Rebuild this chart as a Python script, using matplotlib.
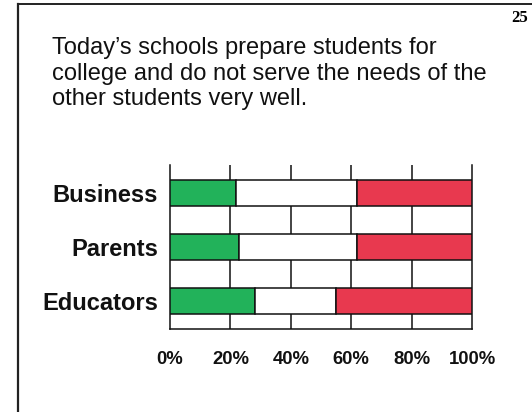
import numpy as np
import matplotlib.pyplot as plt
from matplotlib.lines import Line2D

groups = ["Educators", "Parents", "Business"]
agree = [28, 23, 22]
neutral = [27, 39, 40]
disagree = [45, 38, 38]
ticks = [0, 20, 40, 60, 80, 100]
tick_labels = ["0%", "20%", "40%", "60%", "80%", "100%"]

title = ("Today\u2019s schools prepare students for\n"
         "college and do not serve the needs of the\n"
         "other students very well.")

GREEN = "#22b25a"
RED = "#e8394f"

plt.rcParams["font.family"] = ["Liberation Sans", "DejaVu Sans"]

fig = plt.figure(figsize=(5.32, 4.12), dpi=100)

# slide frame: top rule and left rule only
fig.add_artist(Line2D([18 / 532, 1], [1 - 4 / 412] * 2, color="#222222", lw=1.4))
fig.add_artist(Line2D([18 / 532] * 2, [0, 1 - 4 / 412], color="#222222", lw=1.6))

fig.text(528 / 532, 1 - 18 / 412, "25", ha="right", va="center",
         fontsize=12, fontweight="bold", family=["Liberation Serif"])
fig.text(52 / 532, 1 - 37 / 412, title, ha="left", va="top",
         fontsize=17, linespacing=1.22, color="#111111")

ax = fig.add_axes([170 / 532, 1 - 329 / 412, 302 / 532, 164 / 412])

y = np.arange(len(groups))
h = 0.48
kw = dict(height=h, edgecolor="#111111", linewidth=1.1, zorder=3)
ax.barh(y, agree, color=GREEN, **kw)
ax.barh(y, neutral, left=agree, color="white", **kw)
ax.barh(y, disagree, left=np.add(agree, neutral), color=RED, **kw)

for t in ticks[1:-1]:
    ax.axvline(t, color="#111111", lw=1.1, zorder=1)

ax.set_xlim(0, 100)
ax.set_ylim(-0.52, len(groups) - 0.48)
ax.set_xticks(ticks, tick_labels)
ax.set_yticks(y, groups)
ax.tick_params(length=0)
ax.tick_params(axis="x", pad=15.5, labelsize=13.3)
ax.tick_params(axis="y", pad=8.5, labelsize=17)
for lab in ax.get_xticklabels() + ax.get_yticklabels():
    lab.set_fontweight("bold")
    lab.set_color("#111111")

ax.spines["top"].set_visible(False)
for s in ("left", "right", "bottom"):
    ax.spines[s].set_linewidth(1.1)
    ax.spines[s].set_color("#111111")

fig.savefig("out.png", dpi=100)
